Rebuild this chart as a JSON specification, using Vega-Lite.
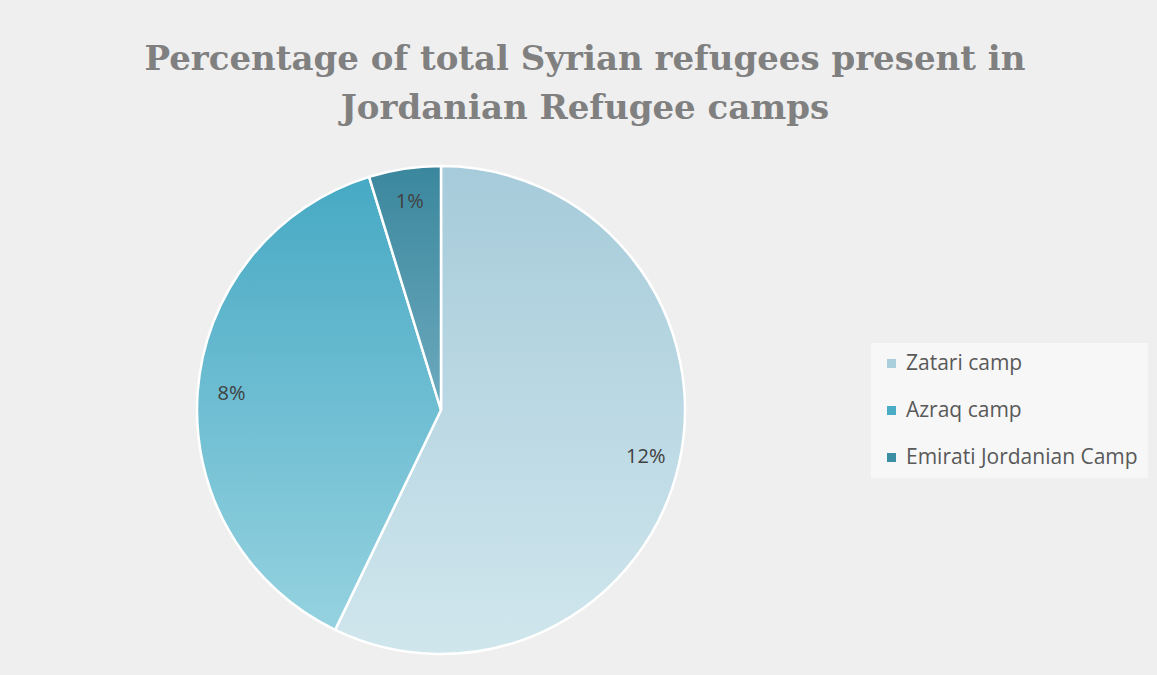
{
  "$schema": "https://vega.github.io/schema/vega-lite/v6.json",
  "autosize": "none",
  "width": 862,
  "height": 500,
  "padding": {"left": 10, "top": 160, "right": 285, "bottom": 15},
  "background": "#efefef",
  "config": {"view": {"stroke": null}},
  "title": {
    "text": ["Percentage of total Syrian refugees present in", "Jordanian Refugee camps"],
    "font": "DejaVu Serif",
    "fontWeight": "bold",
    "fontSize": 34,
    "color": "#808080",
    "anchor": "middle",
    "lineHeight": 49,
    "dx": 144,
    "offset": 34
  },
  "data": {
    "values": [
      {"camp": "Zatari camp", "value": 12, "label": "12%", "idx": 1},
      {"camp": "Azraq camp", "value": 8, "label": "8%", "idx": 2},
      {"camp": "Emirati Jordanian Camp", "value": 1, "label": "1%", "idx": 3}
    ]
  },
  "encoding": {
    "theta": {"field": "value", "type": "quantitative", "stack": true},
    "order": {"field": "idx", "type": "quantitative"}
  },
  "layer": [
    {
      "mark": {"type": "arc", "outerRadius": 244},
      "encoding": {
        "color": {
          "field": "camp",
          "type": "nominal",
          "sort": ["Zatari camp", "Azraq camp", "Emirati Jordanian Camp"],
          "scale": {
            "domain": ["Zatari camp", "Azraq camp", "Emirati Jordanian Camp"],
            "range": ["#a9cfdd", "#4bacc6", "#3c8ea3"]
          },
          "legend": {
            "title": null,
            "orient": "none",
            "legendX": 861,
            "legendY": 183,
            "padding": 10,
            "fillColor": "#f7f7f7",
            "symbolType": "square",
            "symbolSize": 81,
            "symbolStrokeWidth": 0,
            "labelFont": "Open Sans",
            "labelFontSize": 21,
            "labelColor": "#595959",
            "labelOffset": 4,
            "rowPadding": 25,
            "labelLimit": 300
          }
        }
      }
    },
    {
      "mark": {"type": "arc", "outerRadius": 244, "stroke": "white", "strokeWidth": 2.5},
      "encoding": {
        "detail": {"field": "camp", "type": "nominal"},
        "fill": {
          "condition": [
            {
              "test": "datum.camp === 'Zatari camp'",
              "value": {"gradient": "linear", "x1": 0, "y1": 0, "x2": 0, "y2": 1,
                "stops": [{"offset": 0, "color": "#a6cbda"}, {"offset": 1, "color": "#d0e6ed"}]}
            },
            {
              "test": "datum.camp === 'Azraq camp'",
              "value": {"gradient": "linear", "x1": 0, "y1": 0, "x2": 0, "y2": 1,
                "stops": [{"offset": 0, "color": "#47a9c4"}, {"offset": 1, "color": "#95d2e0"}]}
            }
          ],
          "value": {"gradient": "linear", "x1": 0, "y1": 0, "x2": 0, "y2": 1,
            "stops": [{"offset": 0, "color": "#3a879d"}, {"offset": 1, "color": "#6eaabe"}]}
        }
      }
    },
    {
      "mark": {"type": "text", "radius": 210, "font": "Open Sans", "fontSize": 20, "color": "#404040"},
      "encoding": {
        "detail": {"field": "camp", "type": "nominal"},
        "text": {"field": "label", "type": "nominal"}
      }
    }
  ]
}
